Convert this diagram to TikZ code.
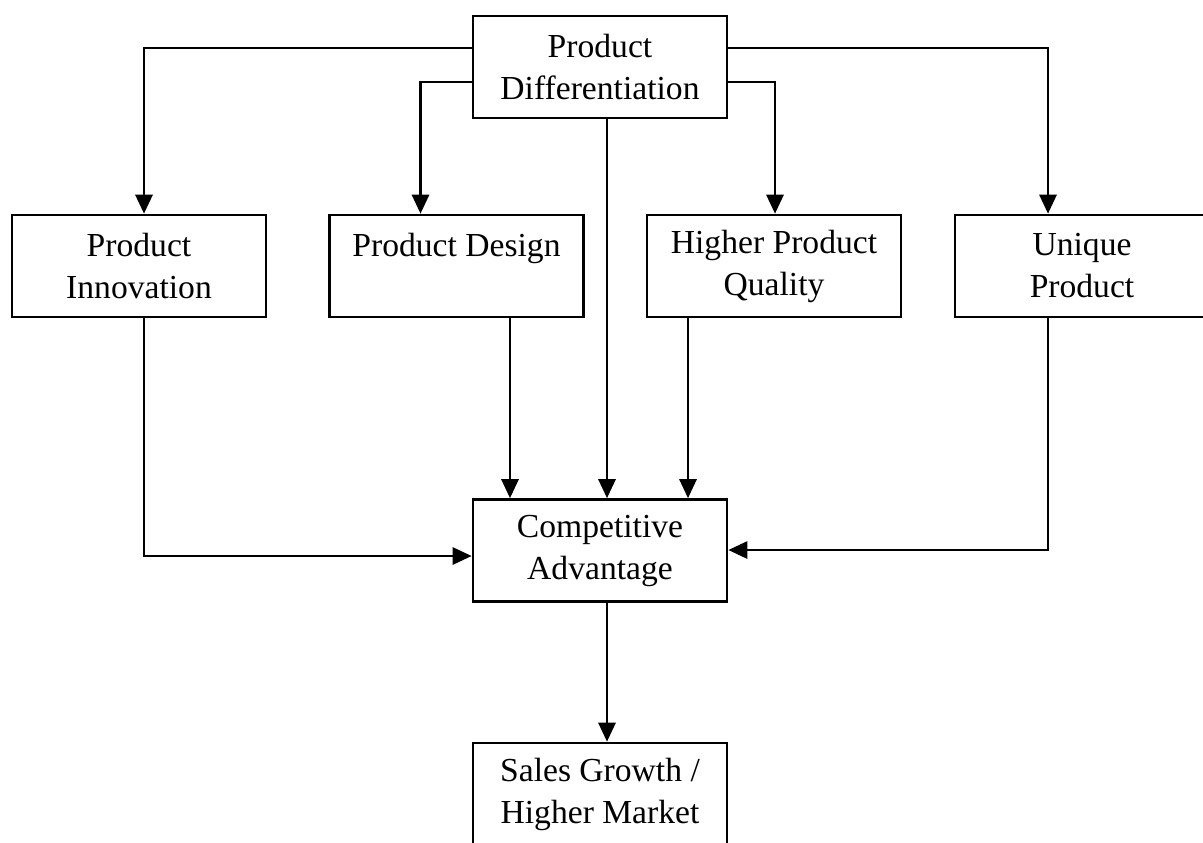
\documentclass[tikz,border=0pt]{standalone}
\usepackage{fontspec}
\setmainfont{Liberation Serif}
\usepackage{tikz}
\usetikzlibrary{arrows.meta,positioning}

\begin{document}
\begin{tikzpicture}[x=0.5pt, y=-0.5pt, >={Triangle[length=9.5pt,width=8.5pt]},
    box/.style={draw, line width=1.3pt, minimum width=127pt, minimum height=51pt,
      inner sep=0pt, align=center, font=\fontsize{16.8}{21}\selectfont},
    flow/.style={->, line width=1.4pt}]
  \useasboundingbox (0,0) rectangle (1203,842);

  % Boxes
  \node[box] (pd)  at (600,67)    {Product\\Differentiation};
  \node[box] (pi)  at (139,266)   {Product\\Innovation};
  \node[box] (des) at (456.5,266) {Product Design\\\mbox{}};
  \node[box] (hpq) at (774,266)   {Higher Product\\Quality};
  \node[box] (up)  at (1082,266)  {Unique\\Product};
  \node[box] (ca)  at (600,550.5) {Competitive\\Advantage};
  \node[box] (sg)  at (600,794)   {Sales Growth /\\Higher Market};

  % From differentiation to the four drivers
  \draw[flow] ([yshift=9.5pt]pd.west) -| ([xshift=2.5pt]pi.north);
  \draw[flow] ([yshift=-7.5pt]pd.west) -| ([xshift=-18pt]des.north);
  \draw[flow] ([yshift=-7.5pt]pd.east) -| ([xshift=0.5pt]hpq.north);
  \draw[flow] ([yshift=9.5pt]pd.east) -| ([xshift=-17pt]up.north);
  \draw[flow] ([xshift=3.5pt]pd.south) -- ([xshift=3.5pt]ca.north);

  % Drivers into competitive advantage
  \draw[flow] ([xshift=2.5pt]pi.south) |- ([yshift=-2.75pt]ca.west);
  \draw[flow] ([xshift=-45pt]ca.north |- des.south) -- ([xshift=-45pt]ca.north);
  \draw[flow] ([xshift=44pt]ca.north |- hpq.south) -- ([xshift=44pt]ca.north);
  \draw[flow] ([xshift=-17pt]up.south) |- ([yshift=0.25pt]ca.east);

  % Outcome
  \draw[flow] ([xshift=3.5pt]ca.south) -- ([xshift=3.5pt]sg.north);
\end{tikzpicture}
\end{document}
